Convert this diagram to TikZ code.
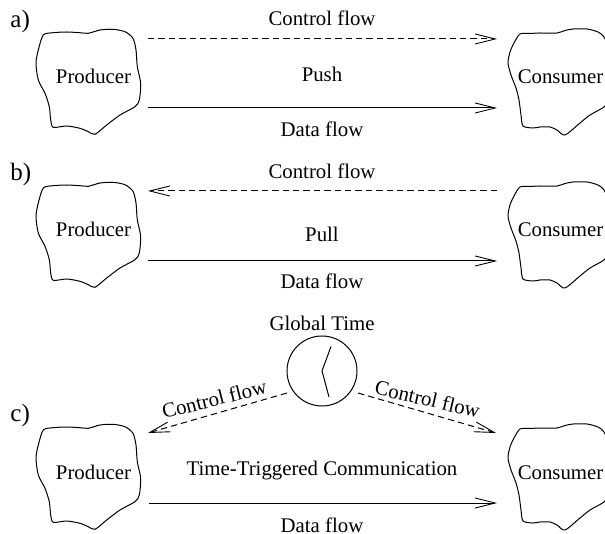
\documentclass[tikz,border=0pt]{standalone}
\usepackage{fontspec}
\setmainfont{Liberation Serif}
\usetikzlibrary{arrows.meta}
\tikzset{
  lbl/.style={anchor=base, inner sep=0pt, font=\fontsize{10.4}{12}\selectfont},
  partlbl/.style={anchor=base west, inner sep=0pt, font=\fontsize{12.5}{14}\selectfont},
  flow/.style={line width=0.5pt, -{Straight Barb[length=10pt,width=5pt,line width=0.45pt]}},
  ctrl/.style={flow, dash pattern=on 3.2pt off 2pt},
  blobline/.style={line width=0.5pt, line join=round},
  prodblob/.pic={\draw[blobline] plot[smooth cycle, tension=0.45] coordinates {
    (43.3,35) (53.3,32.7) (66.7,32) (80,32.7) (88.3,33.3) (100,30) (113,29.3) (125,31.7)
    (133,38.3) (136,50) (137.3,66.7) (140.7,83.3) (139.3,100) (135,106.7) (120,115)
    (106.7,125) (95,134.3) (88.3,131.7) (80,128.3) (66.7,126) (53.3,127.3) (50.7,120)
    (49.3,106.7) (45,93.3) (38.3,80) (36,63.3) (38.3,50)};},
  consblob/.pic={\draw[blobline] plot[smooth cycle, tension=0.45] coordinates {
    (520,34) (530,33.5) (540,33) (557,33) (565,30.5) (573,29) (587,29) (598,32) (604,37)
    (609,50) (610,80) (608,100) (604,107) (590,115) (580,123) (565,135) (557,130)
    (550,127) (540,127) (533,128) (523,126) (521,115) (519,100) (516,88) (511,75)
    (508,63) (510,52) (514,43)};}
}
\begin{document}
\begin{tikzpicture}[x=0.5pt, y=-0.5pt]
\useasboundingbox (0,0) rectangle (605,534);
\clip (0,0) rectangle (605,534);

% ---------- a) Push
\node[partlbl] (la) at (10,28) {a)};
\pic at (0,0) {prodblob};
\pic at (0,0) {consblob};
\node[lbl] (prodA) at (93.5,84) {Producer};
\node[lbl] (consA) at (560.5,84) {Consumer};
\coordinate (pA1) at (148,39);
\coordinate (cA1) at (497,39);
\coordinate (pA2) at (148,108);
\coordinate (cA2) at (497,108);
\draw[ctrl] (pA1) -- (cA1);
\draw[flow] (pA2) -- (cA2);
\node[lbl] (ctrlA) at (322,26) {Control flow};
\node[lbl] (pushA) at (322,82) {Push};
\node[lbl] (dataA) at (322,137) {Data flow};

% ---------- b) Pull
\node[partlbl] (lb) at (10,181) {b)};
\pic at (0,153) {prodblob};
\pic at (0,153) {consblob};
\node[lbl] (prodB) at (93.5,237) {Producer};
\node[lbl] (consB) at (560.5,237) {Consumer};
\coordinate (pB1) at (148,191);
\coordinate (cB1) at (497,191);
\coordinate (pB2) at (148,261);
\coordinate (cB2) at (497,261);
\draw[ctrl] (cB1) -- (pB1);
\draw[flow] (pB2) -- (cB2);
\node[lbl] (ctrlB) at (322,179) {Control flow};
\node[lbl] (pullB) at (322,242) {Pull};
\node[lbl] (dataB) at (322,289) {Data flow};

% ---------- c) Time-triggered
\node[partlbl] (lc) at (10,421) {c)};
\pic at (0,395) {prodblob};
\pic at (0,395) {consblob};
\node[lbl] (prodC) at (93.5,479) {Producer};
\node[lbl] (consC) at (560.5,479) {Consumer};
\node[lbl] (gtime) at (322,330) {Global Time};
\node[draw, circle, line width=0.5pt, minimum size=35pt, inner sep=0pt] (clock) at (322,371) {};
\draw[line width=0.5pt] (clock.center) -- ++(9,-24.5);
\draw[line width=0.5pt] (clock.center) -- ++(7,26);
\coordinate (clkL) at (287,393);
\coordinate (clkR) at (358,393);
\coordinate (pC1) at (148,433);
\coordinate (cC1) at (496,433);
\coordinate (pC2) at (149,503);
\coordinate (cC2) at (497,503);
\draw[ctrl] (clkL) -- (pC1);
\draw[ctrl] (clkR) -- (cC1);
\draw[flow] (pC2) -- (cC2);
\node[lbl, rotate=14] (ctrlCL) at (216,406) {Control flow};
\node[lbl, rotate=-13] (ctrlCR) at (426,406) {Control flow};
\node[lbl] (ttc) at (322,475) {Time-Triggered Communication};
\node[lbl] (dataC) at (322,532) {Data flow};
\end{tikzpicture}
\end{document}
